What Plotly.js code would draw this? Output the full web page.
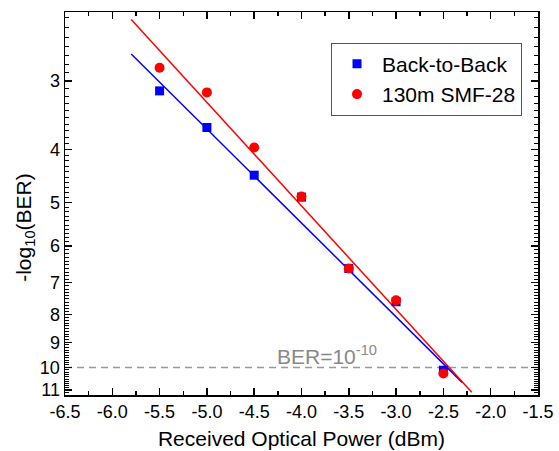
<!DOCTYPE html>
<html>
<head>
<meta charset="utf-8">
<script src="https://cdn.plot.ly/plotly-3.0.1.min.js"></script>
<style>
html,body{margin:0;padding:0;background:#fff;}
#chart{width:559px;height:451px;}
</style>
</head>
<body>
<div id="chart"></div>
<script>
// Data (x: received optical power in dBm, y: -log10(BER))
var powerB2B = [-5.5, -5.0, -4.5, -4.0, -3.5, -3.0, -2.5];
var berB2B   = [3.13, 3.65, 4.46, 4.89, 6.60, 7.59, 10.12];
var powerSMF = [-5.5, -5.0, -4.5, -4.0, -3.5, -3.0, -2.5];
var berSMF   = [2.84, 3.15, 3.97, 4.88, 6.60, 7.54, 10.26];
// Linear fit endpoints
var fitXB2B = [-5.8, -2.3];
var fitYB2B = [2.68, 10.66];
var fitXSMF = [-5.8, -2.2];
var fitYSMF = [2.32, 11.10];
// Threshold
var thrX = [-6.5, -1.5];
var thrY = [10, 10];
// Ticks
var xTickVals = [-6.5, -6.0, -5.5, -5.0, -4.5, -4.0, -3.5, -3.0, -2.5, -2.0, -1.5];
var xTickText = ['-6.5', '-6.0', '-5.5', '-5.0', '-4.5', '-4.0', '-3.5', '-3.0', '-2.5', '-2.0', '-1.5'];
var yTickVals = [3, 4, 5, 6, 7, 8, 9, 10, 11];
var yTickText = ['3', '4', '5', '6', '7', '8', '9', '10', '11'];
var legendNames = ['Back-to-Back', '130m SMF-28'];

var yMinor = [];
for (var i = 23; i <= 112; i++) { if (i % 10 !== 0) yMinor.push(i / 10); }

var FONT = 'Liberation Sans, Arial, sans-serif';
var X_RANGE = [-6.5, -1.5];
var Y_RANGE = [Math.log10(11.23), Math.log10(2.247)];

var traces = [
  {x: thrX, y: thrY, mode: 'lines', line: {color: '#999999', width: 1.5, dash: '7px,5px'}, showlegend: false, hoverinfo: 'skip'},
  {x: fitXB2B, y: fitYB2B, mode: 'lines', line: {color: '#0000ff', width: 1.5}, showlegend: false},
  {x: fitXSMF, y: fitYSMF, mode: 'lines', line: {color: '#ff0000', width: 1.5}, showlegend: false},
  {x: powerB2B, y: berB2B, mode: 'markers', name: legendNames[0], marker: {symbol: 'square', color: '#0000ff', size: 9}},
  {x: powerSMF, y: berSMF, mode: 'markers', name: legendNames[1], marker: {symbol: 'circle', color: '#ff0000', size: 10}},
  // invisible carrier so the mirrored (top/right) frame axes are drawn
  {x: thrX, y: thrY, xaxis: 'x2', yaxis: 'y2', mode: 'lines', line: {width: 0, color: 'rgba(0,0,0,0)'}, opacity: 0, showlegend: false, hoverinfo: 'skip'}
];

var xMinorCfg = {dtick: 0.25, tick0: -6.5, ticks: 'inside', ticklen: 4, tickwidth: 1.5, tickcolor: '#000', showgrid: false};
var yMinorCfg = {tickmode: 'array', tickvals: yMinor, ticks: 'inside', ticklen: 4, tickwidth: 1, tickcolor: '#000', showgrid: false};

var layout = {
  width: 559, height: 451,
  margin: {l: 65, r: 21, t: 12, b: 56},
  paper_bgcolor: '#fff', plot_bgcolor: '#fff',
  font: {family: FONT, color: '#000', size: 18},
  showlegend: true,
  legend: {
    x: 0.5624, y: 0.92, xanchor: 'left', yanchor: 'top',
    bordercolor: '#555', borderwidth: 1, bgcolor: '#fff',
    itemwidth: 40,
    font: {family: FONT, size: 21, color: '#000'}
  },
  xaxis: {
    range: X_RANGE, tickmode: 'array', tickvals: xTickVals, ticktext: xTickText,
    ticks: 'inside', ticklen: 7, tickwidth: 1.5, tickcolor: '#000',
    showline: true, linecolor: '#000', linewidth: 1.5,
    showgrid: false, zeroline: false,
    minor: xMinorCfg,
    tickfont: {family: FONT, size: 18},
    title: {text: 'Received Optical Power (dBm)', font: {family: FONT, size: 21}, standoff: 10}
  },
  xaxis2: {
    overlaying: 'x', anchor: 'y', side: 'top', range: X_RANGE, tickmode: 'array', tickvals: xTickVals,
    ticks: 'inside', ticklen: 7, tickwidth: 1.5, tickcolor: '#000',
    showline: true, linecolor: '#000', linewidth: 1.5, showticklabels: false,
    showgrid: false, zeroline: false, minor: xMinorCfg
  },
  yaxis: {
    type: 'log', range: Y_RANGE, autorange: false,
    tickmode: 'array', tickvals: yTickVals, ticktext: yTickText,
    ticks: 'inside', ticklen: 7, tickwidth: 1.5, tickcolor: '#000',
    showline: true, linecolor: '#000', linewidth: 1.5,
    showgrid: false, zeroline: false,
    minor: yMinorCfg,
    tickfont: {family: FONT, size: 18}
  },
  yaxis2: {
    type: 'log', overlaying: 'y', anchor: 'x', side: 'right', range: Y_RANGE, autorange: false,
    tickmode: 'array', tickvals: yTickVals,
    ticks: 'inside', ticklen: 7, tickwidth: 1.5, tickcolor: '#000',
    showline: true, linecolor: '#000', linewidth: 1.5, showticklabels: false,
    showgrid: false, zeroline: false, minor: yMinorCfg
  },
  annotations: [
    {xref: 'paper', yref: 'paper', x: -0.085, y: 0.4386, xanchor: 'center', yanchor: 'middle',
     text: '-log<sub>10</sub>(BER)', textangle: -90, showarrow: false, font: {family: FONT, size: 21, color: '#000'}},
    {xref: 'x', yref: 'paper', x: -3.73, y: 0.07, yshift: -2, xanchor: 'center', yanchor: 'bottom',
     text: 'BER=10<sup>-10</sup>', showarrow: false, font: {family: FONT, size: 21, color: '#888888'}}
  ]
};

Plotly.newPlot('chart', traces, layout, {displayModeBar: false, staticPlot: true});
</script>
</body>
</html>
